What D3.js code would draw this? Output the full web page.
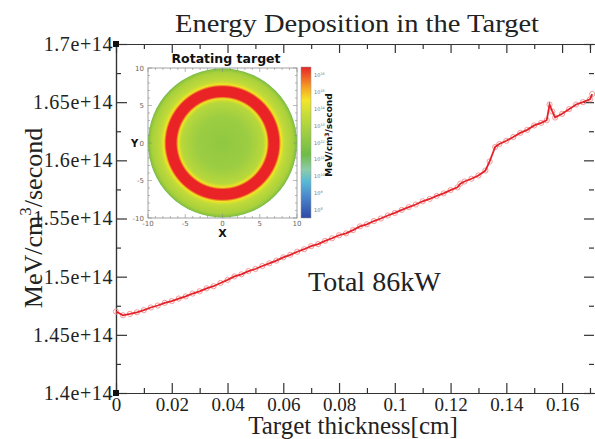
<!DOCTYPE html>
<html>
<head>
<meta charset="utf-8">
<script src="https://cdn.jsdelivr.net/npm/d3@7"></script>
<style>
  body { margin: 0; background: #fff; }
  svg { display: block; }
</style>
</head>
<body>
<div id="chart-area"></div>
<script>
// thickness (cm) and deposited energy (x1e14 MeV/cm3/second)
const thickness = [0, 0.0025, 0.005, 0.0075, 0.01, 0.0125, 0.015, 0.0175, 0.02, 0.0225,
  0.025, 0.0275, 0.03, 0.0325, 0.035, 0.0375, 0.04, 0.0425, 0.045, 0.0475,
  0.05, 0.0525, 0.055, 0.0575, 0.06, 0.0625, 0.065, 0.0675, 0.07, 0.0725,
  0.075, 0.0775, 0.08, 0.0825, 0.085, 0.0875, 0.09, 0.0925, 0.095, 0.0975,
  0.1, 0.1025, 0.105, 0.1075, 0.11, 0.1125, 0.115, 0.1175, 0.12, 0.1225,
  0.1235, 0.125, 0.1275, 0.13, 0.1325, 0.134, 0.136, 0.1375, 0.14, 0.1425,
  0.145, 0.1475, 0.15, 0.1525, 0.1545, 0.1555, 0.1565, 0.1575, 0.16, 0.1625,
  0.165, 0.1675, 0.17, 0.1708];
const energy = [1.4700, 1.4668, 1.4680, 1.4694, 1.4712, 1.4735, 1.4752, 1.4775, 1.4790, 1.4812,
  1.4830, 1.4855, 1.4874, 1.4900, 1.4918, 1.4946, 1.4972, 1.5002, 1.5020, 1.5048,
  1.5066, 1.5092, 1.5115, 1.5138, 1.5166, 1.5188, 1.5214, 1.5236, 1.5262, 1.5280,
  1.5308, 1.5330, 1.5356, 1.5372, 1.5400, 1.5432, 1.5450, 1.5478, 1.5500, 1.5526,
  1.5548, 1.5574, 1.5598, 1.5620, 1.5648, 1.5668, 1.5694, 1.5716, 1.5744, 1.5768,
  1.5800, 1.5818, 1.5842, 1.5870, 1.5912, 1.5990, 1.6115, 1.6140, 1.6168, 1.6200,
  1.6236, 1.6262, 1.6300, 1.6322, 1.6345, 1.6480, 1.6420, 1.6368, 1.6400, 1.6440,
  1.6480, 1.6500, 1.6525, 1.6570];

const xMajor = [0, 0.02, 0.04, 0.06, 0.08, 0.1, 0.12, 0.14, 0.16];
const xTickLabels = ["0", "0.02", "0.04", "0.06", "0.08", "0.1", "0.12", "0.14", "0.16"];
const xMinor = [0.01, 0.03, 0.05, 0.07, 0.09, 0.11, 0.13, 0.15, 0.17];
const yMajor = [1.4e14, 1.45e14, 1.5e14, 1.55e14, 1.6e14, 1.65e14, 1.7e14];
const yTickLabels = ["1.4e+14", "1.45e+14", "1.5e+14", "1.55e+14", "1.6e+14", "1.65e+14", "1.7e+14"];
const yMinor = [1.425e14, 1.475e14, 1.525e14, 1.575e14, 1.625e14, 1.675e14];

// inset: radial profile of the rotating target (radius in cm, colour)
const ringRadius = [0, 3.5, 5.5, 5.95, 6.25, 7.55, 7.85, 8.3, 9.5, 9.9, 10];
const ringColor = ["#90c841", "#9ccd42", "#b8d83b", "#eee323", "#ea2327", "#ea2327",
  "#f1e424", "#c2db39", "#a8d03c", "#86c140", "#5fae3c"];
const insetTicks = [-10, -5, 0, 5, 10];
const insetMinor = d3.range(-10, 11, 1);
const cbStops = [0, 0.06, 0.14, 0.22, 0.32, 0.45, 0.58, 0.68, 0.76, 0.86, 1];
const cbColors = ["#e52528", "#ef5a27", "#f5a623", "#f3e52a", "#c5dc3a", "#9bcc44",
  "#6dbc47", "#8cccaa", "#58b8d6", "#4a86cc", "#2c48a6"];
const cbExponents = [16, 15, 14, 13, 12, 11, 10, 9, 8];

const width = 595, height = 439;
const serif = "'Liberation Serif', 'Times New Roman', serif";
const sans = "'DejaVu Sans', 'Noto Sans', sans-serif";

const data = thickness.map((t, i) => ({ t: t, v: energy[i] * 1e14 }));

const svg = d3.select("#chart-area")
  .append("svg")
  .attr("width", width)
  .attr("height", height);

const x = d3.scaleLinear().domain([0, 0.1718]).range([116, 595]);
const y = d3.scaleLinear().domain([1.4e14, 1.7e14]).range([393, 44]);

function styleAxis(sel) {
  sel.selectAll("path, line").attr("stroke", "#333").attr("stroke-width", 1.2);
  sel.selectAll("text").attr("font-family", serif).attr("fill", "#222");
}

// bottom axis
svg.append("g")
  .attr("transform", `translate(0,${y(1.4e14)})`)
  .call(d3.axisBottom(x).tickValues(xMajor).tickSize(-10).tickSizeOuter(0)
    .tickPadding(8).tickFormat((d, i) => xTickLabels[i]))
  .call(styleAxis)
  .selectAll("text").attr("font-size", "19px").attr("dy", "0.55em");
svg.append("g")
  .attr("transform", `translate(0,${y(1.4e14)})`)
  .call(d3.axisBottom(x).tickValues(xMinor).tickSize(-5).tickSizeOuter(0).tickFormat(""))
  .call(styleAxis);

// top axis
svg.append("g")
  .attr("transform", `translate(0,${y(1.7e14)})`)
  .call(d3.axisTop(x).tickValues(xMajor.concat([0.17])).tickSize(-9).tickSizeOuter(0).tickFormat(""))
  .call(styleAxis);
svg.append("g")
  .attr("transform", `translate(0,${y(1.7e14)})`)
  .call(d3.axisTop(x).tickValues(xMinor).tickSize(-5).tickSizeOuter(0).tickFormat(""))
  .call(styleAxis);

// left axis
svg.append("g")
  .attr("transform", `translate(${x(0)},0)`)
  .call(d3.axisLeft(y).tickValues(yMajor).tickSize(-11).tickSizeOuter(0)
    .tickPadding(3).tickFormat((d, i) => yTickLabels[i]))
  .call(styleAxis)
  .selectAll("text").attr("font-size", "20px").attr("letter-spacing", "0.6px");
svg.append("g")
  .attr("transform", `translate(${x(0)},0)`)
  .call(d3.axisLeft(y).tickValues(yMinor).tickSize(-5).tickSizeOuter(0).tickFormat(""))
  .call(styleAxis);

// right axis (edge of the frame sits on the picture border)
const rightAxis = svg.append("g")
  .attr("transform", `translate(${x(0.1718) - 1},0)`)
  .call(d3.axisRight(y).tickValues(yMajor).tickSize(-10).tickSizeOuter(0).tickFormat(""))
  .call(styleAxis);
rightAxis.select(".domain").remove();
const rightMinor = svg.append("g")
  .attr("transform", `translate(${x(0.1718) - 1},0)`)
  .call(d3.axisRight(y).tickValues(yMinor).tickSize(-5).tickSizeOuter(0).tickFormat(""))
  .call(styleAxis);
rightMinor.select(".domain").remove();

// corner markers
[1.4e14, 1.7e14].forEach(v => {
  svg.append("rect")
    .attr("x", x(0) - 3).attr("y", y(v) - 3)
    .attr("width", 6).attr("height", 6)
    .attr("fill", "#111");
});

// data line + open markers
svg.append("g")
  .selectAll("circle")
  .data(data)
  .enter()
  .append("circle")
  .attr("cx", d => x(d.t))
  .attr("cy", d => y(d.v))
  .attr("r", 2.6)
  .attr("fill", "none")
  .attr("stroke", "#f39a9a")
  .attr("stroke-width", 1);

svg.append("path")
  .datum(data)
  .attr("fill", "none")
  .attr("stroke", "#e3222a")
  .attr("stroke-width", 1.8)
  .attr("d", d3.line().x(d => x(d.t)).y(d => y(d.v)));

// titles
svg.append("text")
  .attr("x", 357).attr("y", 32)
  .attr("text-anchor", "middle")
  .attr("font-family", serif)
  .attr("font-size", "25px")
  .attr("fill", "#222")
  .attr("textLength", 364)
  .attr("lengthAdjust", "spacingAndGlyphs")
  .text("Energy Deposition in the Target");

svg.append("text")
  .attr("x", 353).attr("y", 434)
  .attr("text-anchor", "middle")
  .attr("font-family", serif)
  .attr("font-size", "25px")
  .attr("fill", "#222")
  .text("Target thickness[cm]");

const yLabel = svg.append("text")
  .attr("transform", "translate(42,218) rotate(-90)")
  .attr("text-anchor", "middle")
  .attr("font-family", serif)
  .attr("font-size", "26px")
  .attr("fill", "#222");
yLabel.append("tspan").text("MeV/cm");
yLabel.append("tspan").attr("dy", -11).attr("font-size", "17px").text("3");
yLabel.append("tspan").attr("dy", 11).text("/second");

svg.append("text")
  .attr("x", 308).attr("y", 291)
  .attr("font-family", serif)
  .attr("font-size", "28px")
  .attr("fill", "#222")
  .text("Total 86kW");

// ---- inset: rotating target map ----
const ix = d3.scaleLinear().domain([-10, 10]).range([148, 297]);
const iy = d3.scaleLinear().domain([-10, 10]).range([218, 68]);
const inset = svg.append("g");

const defs = svg.append("defs");
const rg = defs.append("radialGradient")
  .attr("id", "ring")
  .attr("gradientUnits", "userSpaceOnUse")
  .attr("cx", ix(0)).attr("cy", iy(0))
  .attr("r", ix(10) - ix(0));
rg.selectAll("stop")
  .data(ringRadius)
  .enter()
  .append("stop")
  .attr("offset", d => d / 10)
  .attr("stop-color", (d, i) => ringColor[i]);

const cg = defs.append("linearGradient")
  .attr("id", "cbar")
  .attr("x1", 0).attr("y1", 0).attr("x2", 0).attr("y2", 1);
cg.selectAll("stop")
  .data(cbStops)
  .enter()
  .append("stop")
  .attr("offset", d => d)
  .attr("stop-color", (d, i) => cbColors[i]);

inset.append("rect")
  .attr("x", ix(-10)).attr("y", iy(10))
  .attr("width", ix(10) - ix(-10)).attr("height", iy(-10) - iy(10))
  .attr("fill", "#fff")
  .attr("stroke", "#8a8a8a")
  .attr("stroke-width", 0.8);

inset.append("circle")
  .attr("cx", ix(0)).attr("cy", iy(0))
  .attr("r", ix(10) - ix(0))
  .attr("fill", "url(#ring)");

// inset ticks on all four sides
const tickLen = d => (d % 5 === 0 ? 4 : 2);
insetMinor.forEach(d => {
  inset.append("line").attr("x1", ix(d)).attr("x2", ix(d))
    .attr("y1", iy(-10)).attr("y2", iy(-10) - tickLen(d));
  inset.append("line").attr("x1", ix(d)).attr("x2", ix(d))
    .attr("y1", iy(10)).attr("y2", iy(10) + tickLen(d));
  inset.append("line").attr("y1", iy(d)).attr("y2", iy(d))
    .attr("x1", ix(-10)).attr("x2", ix(-10) + tickLen(d));
  inset.append("line").attr("y1", iy(d)).attr("y2", iy(d))
    .attr("x1", ix(10)).attr("x2", ix(10) - tickLen(d));
});
inset.selectAll("line").attr("stroke", "#8a8a8a").attr("stroke-width", 0.6);

inset.selectAll(".ylab")
  .data(insetTicks)
  .enter()
  .append("text")
  .attr("x", ix(-10) - 4).attr("y", d => iy(d) + 2.5)
  .attr("text-anchor", "end")
  .attr("font-family", sans).attr("font-size", "7px").attr("fill", "#666")
  .text(d => d);
inset.selectAll(".xlab")
  .data(insetTicks)
  .enter()
  .append("text")
  .attr("x", d => ix(d)).attr("y", iy(-10) + 7.5)
  .attr("text-anchor", "middle")
  .attr("font-family", sans).attr("font-size", "7px").attr("fill", "#666")
  .text(d => d);

inset.append("text")
  .attr("x", ix(-10) - 17).attr("y", iy(0) + 4)
  .attr("font-family", sans).attr("font-weight", "bold")
  .attr("font-size", "10px").attr("fill", "#111")
  .text("Y");
inset.append("text")
  .attr("x", ix(0)).attr("y", iy(-10) + 19)
  .attr("text-anchor", "middle")
  .attr("font-family", sans).attr("font-weight", "bold")
  .attr("font-size", "11px").attr("fill", "#111")
  .text("X");
inset.append("text")
  .attr("x", 226).attr("y", 63)
  .attr("text-anchor", "middle")
  .attr("font-family", sans).attr("font-weight", "bold")
  .attr("font-size", "12.5px").attr("fill", "#111")
  .text("Rotating target");

// colour bar
const cb = d3.scaleLinear().domain([7.5, 16.5]).range([218, 67]);
inset.append("rect")
  .attr("x", 301).attr("y", cb(16.5))
  .attr("width", 10).attr("height", cb(7.5) - cb(16.5))
  .attr("fill", "url(#cbar)")
  .attr("stroke", "#999").attr("stroke-width", 0.5);
const cbl = inset.selectAll(".cbl")
  .data(cbExponents)
  .enter()
  .append("text")
  .attr("x", 314).attr("y", d => cb(d) + 2)
  .attr("font-family", sans).attr("font-size", "5px").attr("fill", "#777");
cbl.append("tspan").text("10");
cbl.append("tspan").attr("dy", -2).attr("font-size", "3.5px").text(d => d);

const cbTitle = inset.append("text")
  .attr("transform", "translate(332,135) rotate(-90)")
  .attr("text-anchor", "middle")
  .attr("font-family", sans).attr("font-weight", "bold")
  .attr("font-size", "9px").attr("fill", "#111");
cbTitle.append("tspan").text("MeV/cm");
cbTitle.append("tspan").attr("dy", -3).attr("font-size", "6px").text("3");
cbTitle.append("tspan").attr("dy", 3).text("/second");
</script>
</body>
</html>
